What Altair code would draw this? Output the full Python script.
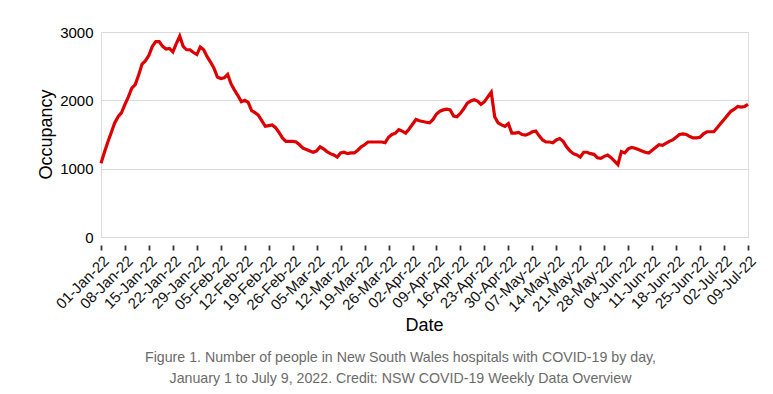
import altair as alt
import pandas as pd

occupancy = [
    1080, 1240, 1390, 1530, 1670, 1760, 1820, 1940, 2050, 2180,
    2230, 2370, 2530, 2580, 2660, 2790, 2860, 2860, 2790, 2750,
    2760, 2710, 2830, 2940, 2790, 2740, 2740, 2700, 2670, 2780,
    2740, 2640, 2560, 2470, 2340, 2320, 2330, 2380, 2240, 2150,
    2070, 1980, 2000, 1970, 1850, 1820, 1780, 1700, 1620, 1630,
    1640, 1600, 1530, 1450, 1400, 1400, 1400, 1390, 1350, 1300,
    1280, 1260, 1240, 1260, 1320, 1290, 1250, 1220, 1200, 1170,
    1230, 1240, 1220, 1230, 1230, 1270, 1320, 1350, 1390, 1390,
    1390, 1390, 1390, 1380, 1460, 1500, 1520, 1570, 1550, 1520,
    1580, 1650, 1720, 1700, 1690, 1680, 1670, 1720, 1800, 1840,
    1860, 1870, 1860, 1770, 1760, 1810, 1880, 1960, 1990, 2010,
    1990, 1940, 1980, 2050, 2120, 1760, 1670, 1640, 1620, 1660,
    1520, 1520, 1530, 1500, 1490, 1510, 1540, 1550, 1480, 1420,
    1390, 1390, 1380, 1420, 1440, 1400, 1320, 1260, 1220, 1200,
    1170, 1240, 1240, 1220, 1210, 1160, 1150, 1180, 1200, 1160,
    1110, 1060, 1250, 1230, 1290, 1310, 1300, 1280, 1260, 1240,
    1230, 1270, 1310, 1350, 1340, 1370, 1400, 1420, 1460, 1500,
    1510, 1500, 1470, 1450, 1450, 1460, 1510, 1540, 1540, 1540,
    1600, 1660, 1720, 1780, 1840, 1870, 1910, 1900, 1910, 1940,
]

tick_labels = [
    "01-Jan-22", "08-Jan-22", "15-Jan-22", "22-Jan-22", "29-Jan-22",
    "05-Feb-22", "12-Feb-22", "19-Feb-22", "26-Feb-22", "05-Mar-22",
    "12-Mar-22", "19-Mar-22", "26-Mar-22", "02-Apr-22", "09-Apr-22",
    "16-Apr-22", "23-Apr-22", "30-Apr-22", "07-May-22", "14-May-22",
    "21-May-22", "28-May-22", "04-Jun-22", "11-Jun-22", "18-Jun-22",
    "25-Jun-22", "02-Jul-22", "09-Jul-22",
]

y_ticks = [0, 1000, 2000, 3000]

caption = [
    "Figure 1. Number of people in New South Wales hospitals with COVID-19 by day,",
    "January 1 to July 9, 2022. Credit: NSW COVID-19 Weekly Data Overview",
]

df = pd.DataFrame({"day": list(range(len(occupancy))), "occupancy": occupancy})
tick_days = [7 * i for i in range(len(tick_labels))]
label_array = "[" + ",".join("'" + t + "'" for t in tick_labels) + "]"

FONT = "Liberation Sans"

chart = (
    alt.Chart(df)
    .mark_line(color="#dd0000", strokeWidth=3.2)
    .encode(
        x=alt.X(
            "day:Q",
            scale=alt.Scale(domain=[0, len(occupancy) - 1], nice=False, zero=False),
            axis=alt.Axis(
                values=tick_days,
                labelExpr=label_array + "[round(datum.value / 7)]",
                labelAngle=-45,
                labelFontSize=15,
                labelColor="#111111",
                labelFont=FONT,
                labelPadding=3,
                labelOverlap=False,
                labelFlush=False,
                domain=False,
                grid=False,
                ticks=True,
                tickSize=5,
                tickColor="#333333",
                tickWidth=1.8,
                offset=8,
                title="Date",
                titleFont=FONT,
                titleFontSize=18,
                titleFontWeight="normal",
                titleColor="#000000",
                titleX=323,
                titleY=80,
                titleBaseline="middle",
            ),
        ),
        y=alt.Y(
            "occupancy:Q",
            scale=alt.Scale(domain=[0, 3000], nice=False),
            axis=alt.Axis(
                values=y_ticks,
                format="d",
                labelFontSize=15,
                labelColor="#000000",
                labelFont=FONT,
                labelPadding=8,
                domain=False,
                ticks=False,
                grid=True,
                gridColor="#d9d9d9",
                gridWidth=1.2,
                title="Occupancy",
                titleFont=FONT,
                titleFontSize=18,
                titleFontWeight="normal",
                titleColor="#000000",
                titleX=-55,
                titleY=102,
                titleAngle=270,
                titleAlign="center",
                titleBaseline="middle",
            ),
        ),
    )
    .properties(
        width=647,
        height=205,
        autosize=alt.AutoSizeParams(type="none"),
        padding={"left": 93, "top": 24, "right": 17, "bottom": 149},
        title=alt.TitleParams(
            text=caption,
            orient="bottom",
            anchor="middle",
            frame="group",
            dx=-24,
            offset=17,
            font=FONT,
            fontSize=14.2,
            fontWeight="normal",
            color="#6b6b6b",
            lineHeight=21,
        ),
    )
    .configure_view(stroke=None)
    .configure(background="#ffffff")
)

chart.save("out.html", embed_options={"renderer": "svg", "actions": False})
